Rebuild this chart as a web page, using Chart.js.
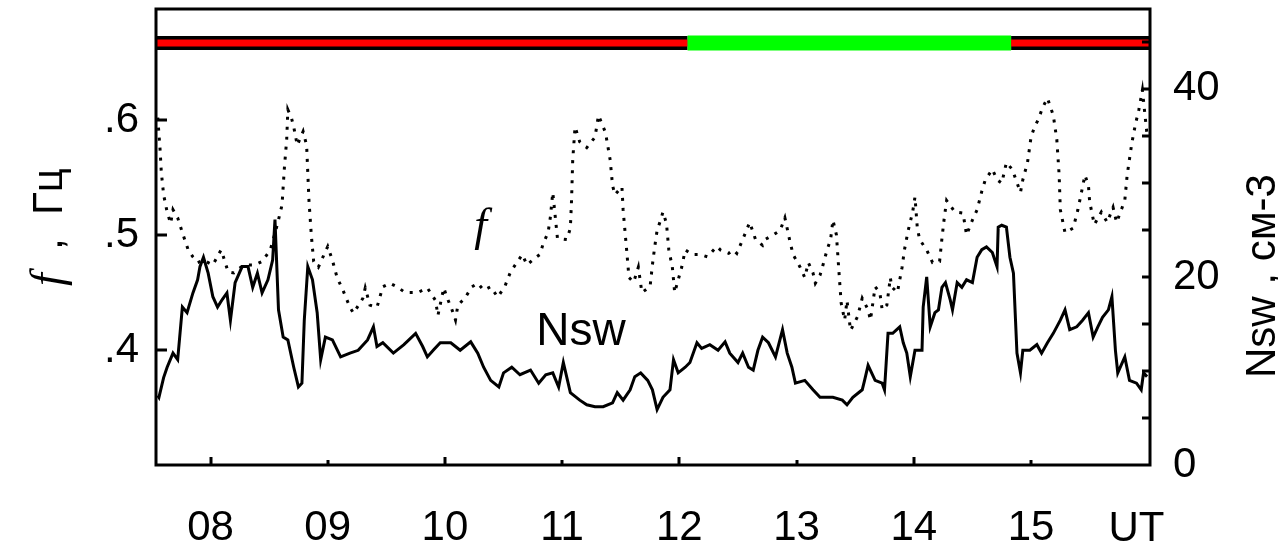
<!DOCTYPE html>
<html>
<head>
<meta charset="utf-8">
<script src="https://cdn.jsdelivr.net/npm/chart.js@4.4.1/dist/chart.umd.min.js"></script>
<style>
  html, body { margin: 0; padding: 0; background: #fff; }
  canvas { display: block; }
</style>
</head>
<body>
<canvas id="myChart" width="1278" height="546"></canvas>
<script>
// time axis, hours UT
const xTickHours = [8, 9, 10, 11, 12, 13, 14, 15];
const fTickValues = [0.4, 0.5, 0.6];
const nswTickValues = [0, 20, 40];
const nswMinorTicks = [5, 10, 15, 20, 25, 30, 35, 40, 45];

// Nsw, cm-3 (solid line, right axis)
const nswTime = [7.55, 7.56, 7.60, 7.63, 7.68, 7.72, 7.76, 7.80, 7.85, 7.89, 7.91, 7.94, 7.98, 8.02, 8.06, 8.10, 8.14, 8.17, 8.21, 8.27,
  8.32, 8.36, 8.40, 8.44, 8.49, 8.53, 8.55, 8.58, 8.62, 8.66, 8.71, 8.75, 8.78, 8.80, 8.83, 8.87, 8.91, 8.94, 8.98, 9.04,
  9.11, 9.19, 9.26, 9.34, 9.39, 9.42, 9.47, 9.56, 9.65, 9.75, 9.81, 9.85, 9.90, 9.96, 10.05, 10.13, 10.22, 10.28, 10.33, 10.39,
  10.46, 10.50, 10.57, 10.64, 10.73, 10.80, 10.86, 10.92, 10.97, 11.01, 11.07, 11.15, 11.21, 11.28, 11.35, 11.43, 11.47, 11.52, 11.58, 11.62,
  11.67, 11.73, 11.77, 11.81, 11.86, 11.92, 11.95, 11.99, 12.05, 12.09, 12.15, 12.19, 12.26, 12.33, 12.39, 12.43, 12.50, 12.54, 12.59, 12.63,
  12.67, 12.71, 12.76, 12.82, 12.88, 12.92, 12.96, 12.99, 13.07, 13.14, 13.20, 13.31, 13.39, 13.43, 13.48, 13.56, 13.58, 13.61, 13.67, 13.73,
  13.75, 13.78, 13.82, 13.88, 13.91, 13.94, 13.97, 14.01, 14.07, 14.08, 14.11, 14.14, 14.18, 14.21, 14.24, 14.27, 14.31, 14.33, 14.37, 14.41,
  14.45, 14.50, 14.54, 14.58, 14.62, 14.67, 14.71, 14.72, 14.75, 14.79, 14.82, 14.85, 14.88, 14.91, 14.93, 14.99, 15.05, 15.09, 15.14, 15.19,
  15.25, 15.29, 15.33, 15.39, 15.44, 15.49, 15.53, 15.57, 15.61, 15.66, 15.69, 15.72, 15.74, 15.80, 15.84, 15.90, 15.94, 15.96, 15.99];
const nswValues = [7.4, 7.2, 9.3, 10.4, 11.9, 11.2, 16.8, 16.2, 18.3, 19.7, 21.1, 22.1, 20.4, 17.9, 16.8, 17.6, 18.3, 15.4, 19.4, 21.1,
  21.1, 18.9, 20.4, 18.3, 19.7, 21.8, 26.1, 16.5, 13.6, 13.3, 10.4, 8.3, 8.7, 15.4, 21.1, 19.7, 16.2, 11.2, 13.6, 13.3,
  11.5, 11.9, 12.2, 13.3, 14.7, 12.6, 13.0, 11.9, 12.8, 14.0, 12.6, 11.5, 12.2, 13.0, 13.0, 12.2, 13.1, 11.9, 10.4, 9.0,
  8.3, 9.8, 10.4, 9.6, 10.1, 8.7, 9.6, 9.8, 8.3, 10.9, 7.7, 6.9, 6.4, 6.2, 6.2, 6.6, 7.7, 6.9, 8.0, 9.4,
  9.8, 9.0, 8.0, 5.9, 7.2, 8.0, 11.2, 9.8, 10.4, 10.9, 13.0, 12.4, 12.8, 12.2, 13.1, 11.9, 10.9, 11.9, 10.4, 10.1,
  12.2, 13.6, 13.0, 11.5, 14.4, 11.9, 10.4, 8.7, 9.0, 8.0, 7.2, 7.2, 6.9, 6.4, 7.2, 8.0, 9.0, 10.6, 9.0, 8.7,
  8.0, 14.0, 14.0, 14.7, 13.0, 11.9, 9.4, 12.2, 12.2, 16.8, 20.0, 14.7, 16.2, 16.5, 18.9, 19.4, 17.6, 16.5, 19.4, 18.9,
  19.7, 19.4, 22.1, 22.9, 23.2, 22.6, 21.1, 25.3, 25.5, 25.3, 22.1, 20.4, 11.9, 9.8, 12.2, 12.2, 12.8, 11.9, 13.0, 14.0,
  15.4, 16.5, 14.4, 14.7, 15.4, 16.2, 13.6, 14.7, 15.7, 16.5, 17.9, 12.2, 9.8, 11.5, 9.0, 8.7, 8.0, 9.8, 9.4];

// f, Hz (dotted line, left axis)
const fTime = [7.55, 7.57, 7.58, 7.60, 7.63, 7.66, 7.68, 7.72, 7.76, 7.79, 7.81, 7.85, 7.89, 7.94, 8.02, 8.09, 8.11, 8.15, 8.20, 8.26,
  8.32, 8.38, 8.44, 8.51, 8.57, 8.61, 8.63, 8.65, 8.66, 8.69, 8.71, 8.74, 8.79, 8.82, 8.84, 8.86, 8.88, 8.92, 9.00, 9.04,
  9.08, 9.13, 9.19, 9.22, 9.30, 9.32, 9.36, 9.42, 9.47, 9.53, 9.59, 9.66, 9.72, 9.77, 9.85, 9.92, 9.94, 9.99, 10.02, 10.06,
  10.09, 10.11, 10.17, 10.23, 10.28, 10.33, 10.39, 10.45, 10.51, 10.56, 10.66, 10.70, 10.77, 10.81, 10.84, 10.88, 10.90, 10.92, 10.96, 11.04,
  11.07, 11.08, 11.09, 11.11, 11.15, 11.21, 11.28, 11.31, 11.37, 11.41, 11.43, 11.45, 11.51, 11.52, 11.55, 11.57, 11.61, 11.65, 11.68, 11.75,
  11.77, 11.79, 11.81, 11.84, 11.86, 11.89, 11.91, 11.94, 11.96, 12.02, 12.05, 12.11, 12.18, 12.24, 12.32, 12.35, 12.42, 12.46, 12.49, 12.54,
  12.60, 12.65, 12.71, 12.73, 12.80, 12.86, 12.90, 12.94, 12.97, 13.03, 13.07, 13.10, 13.14, 13.16, 13.20, 13.22, 13.26, 13.29, 13.31, 13.34,
  13.36, 13.38, 13.41, 13.43, 13.46, 13.52, 13.56, 13.61, 13.63, 13.67, 13.71, 13.73, 13.77, 13.80, 13.81, 13.86, 13.90, 13.92, 13.95, 13.99,
  14.01, 14.03, 14.05, 14.11, 14.16, 14.22, 14.24, 14.26, 14.28, 14.35, 14.42, 14.45, 14.50, 14.54, 14.58, 14.61, 14.67, 14.71, 14.75, 14.79,
  14.84, 14.91, 14.93, 14.97, 15.00, 15.03, 15.06, 15.10, 15.14, 15.19, 15.22, 15.24, 15.25, 15.29, 15.36, 15.40, 15.46, 15.49, 15.50, 15.54,
  15.60, 15.65, 15.70, 15.73, 15.80, 15.82, 15.86, 15.89, 15.92, 15.95, 15.99];
const fValues = [0.602, 0.574, 0.555, 0.535, 0.520, 0.510, 0.522, 0.515, 0.502, 0.493, 0.487, 0.481, 0.476, 0.478, 0.474, 0.487, 0.481, 0.468, 0.467, 0.472,
  0.474, 0.474, 0.477, 0.487, 0.509, 0.526, 0.558, 0.583, 0.609, 0.602, 0.594, 0.578, 0.590, 0.578, 0.530, 0.500, 0.477, 0.472, 0.490, 0.478,
  0.463, 0.452, 0.437, 0.432, 0.445, 0.454, 0.439, 0.437, 0.455, 0.458, 0.455, 0.450, 0.450, 0.450, 0.454, 0.443, 0.430, 0.454, 0.445, 0.435,
  0.426, 0.439, 0.445, 0.455, 0.458, 0.452, 0.455, 0.446, 0.455, 0.468, 0.483, 0.474, 0.480, 0.483, 0.493, 0.502, 0.516, 0.537, 0.497, 0.496,
  0.506, 0.530, 0.565, 0.594, 0.581, 0.576, 0.585, 0.604, 0.589, 0.565, 0.543, 0.535, 0.542, 0.522, 0.487, 0.463, 0.459, 0.472, 0.450, 0.455,
  0.474, 0.490, 0.504, 0.513, 0.520, 0.510, 0.487, 0.472, 0.450, 0.472, 0.487, 0.483, 0.483, 0.481, 0.490, 0.487, 0.484, 0.487, 0.484, 0.496,
  0.511, 0.496, 0.491, 0.496, 0.500, 0.504, 0.515, 0.496, 0.483, 0.472, 0.463, 0.476, 0.467, 0.458, 0.465, 0.472, 0.487, 0.496, 0.513, 0.500,
  0.470, 0.441, 0.426, 0.443, 0.417, 0.429, 0.445, 0.435, 0.426, 0.455, 0.450, 0.435, 0.439, 0.463, 0.455, 0.450, 0.472, 0.487, 0.503, 0.520,
  0.533, 0.506, 0.496, 0.487, 0.476, 0.477, 0.497, 0.515, 0.530, 0.520, 0.519, 0.500, 0.513, 0.522, 0.538, 0.548, 0.557, 0.548, 0.545, 0.563,
  0.557, 0.537, 0.548, 0.563, 0.585, 0.594, 0.600, 0.611, 0.619, 0.604, 0.583, 0.552, 0.522, 0.502, 0.506, 0.522, 0.552, 0.543, 0.529, 0.509,
  0.520, 0.511, 0.524, 0.511, 0.530, 0.552, 0.580, 0.596, 0.609, 0.626, 0.587];

// status band on top: red / green / red intervals (hours)
const redIntervals = [[7.535, 12.07], [14.83, 16.015]];
const greenIntervals = [[12.07, 14.83]];
const bandLevel = 0.667;

const xMin = 7.535, xMax = 16.015;

function pts(t, v) { return t.map((x, i) => ({x: x, y: v[i]})); }
function bandData(list) {
   const out = [];
   list.forEach(seg => { out.push({x: seg[0], y: bandLevel}, {x: seg[1], y: bandLevel}, {x: seg[1], y: null}); });
   return out;
}

const FONT = "'Liberation Sans', Arial, sans-serif";

const decorPlugin = {
   id: 'decor',
   afterDraw(chart) {
      const ctx = chart.ctx;
      const a = chart.chartArea;
      const xs = chart.scales.x, yl = chart.scales.y, yr = chart.scales.y2;
      ctx.save();
      ctx.strokeStyle = '#000';
      ctx.lineWidth = 3;
      ctx.strokeRect(a.left, a.top, a.right - a.left, a.bottom - a.top);

      // inward tick marks
      ctx.beginPath();
      xTickHours.forEach(h => {
         const px = Math.round(xs.getPixelForValue(h));
         const len = h % 2 === 0 ? 8 : 5;
         ctx.moveTo(px, a.bottom); ctx.lineTo(px, a.bottom - len);
      });
      fTickValues.forEach(v => {
         const py = Math.round(yl.getPixelForValue(v));
         ctx.moveTo(a.left, py); ctx.lineTo(a.left + 11, py);
      });
      nswMinorTicks.forEach(v => {
         const py = Math.round(yr.getPixelForValue(v));
         ctx.moveTo(a.right, py); ctx.lineTo(a.right - 8, py);
      });
      ctx.stroke();

      ctx.fillStyle = '#000';
      ctx.textBaseline = 'alphabetic';
      // "UT" at the end of the time axis
      ctx.font = '42px ' + FONT;
      ctx.textAlign = 'center';
      ctx.fillText('UT', xs.getPixelForValue(15.9), 541);

      // series labels inside the plot
      ctx.font = '46px ' + FONT;
      ctx.textAlign = 'left';
      ctx.fillText('Nsw', xs.getPixelForValue(10.78), yr.getPixelForValue(12.8));
      ctx.font = 'italic 46px "Liberation Serif", serif';
      ctx.fillText('f', xs.getPixelForValue(10.25), yl.getPixelForValue(0.4957));

      // left axis title, reading upwards
      ctx.save();
      ctx.translate(62, 286);
      ctx.rotate(-Math.PI / 2);
      ctx.textAlign = 'left';
      ctx.font = 'italic 46px "Liberation Serif", serif';
      ctx.fillText('f', 0, 0);
      let w = ctx.measureText('f').width;
      ctx.font = '42px ' + FONT;
      ctx.fillText('  ,  Гц', w, 0);
      ctx.restore();

      // right axis title, reading upwards
      ctx.save();
      ctx.translate(1275, 378);
      ctx.rotate(-Math.PI / 2);
      ctx.textAlign = 'left';
      ctx.font = '42px ' + FONT;
      ctx.fillText('Nsw , см-3', 0, 0);
      ctx.restore();
      ctx.restore();
   }
};

const chartElement = document.getElementById('myChart');
const chart = new Chart(chartElement.getContext('2d'), {
   type: 'line',
   data: {
      datasets: [
         {
            label: 'green', data: bandData(greenIntervals), yAxisID: 'y',
            borderColor: '#00ff00', borderWidth: 15, pointRadius: 0, spanGaps: false, order: 0, borderCapStyle: 'butt'
         },
         {
            label: 'red', data: bandData(redIntervals), yAxisID: 'y',
            borderColor: '#ff0000', borderWidth: 7, pointRadius: 0, spanGaps: false, order: 1, borderCapStyle: 'butt'
         },
         {
            label: 'redOutline', data: bandData(redIntervals), yAxisID: 'y',
            borderColor: '#000', borderWidth: 14, pointRadius: 0, spanGaps: false, order: 2, borderCapStyle: 'butt'
         },
         {
            label: 'Nsw', data: pts(nswTime, nswValues), yAxisID: 'y2',
            borderColor: '#000', borderWidth: 3, pointRadius: 0, tension: 0, order: 3
         },
         {
            label: 'f', data: pts(fTime, fValues), yAxisID: 'y',
            borderColor: '#000', borderWidth: 3, borderDash: [3, 7], pointRadius: 0, tension: 0, order: 4,
            borderCapStyle: 'butt'
         }
      ]
   },
   options: {
      responsive: false,
      devicePixelRatio: 1,
      animation: false,
      layout: { padding: { top: 9, left: 0, right: 0, bottom: 0 } },
      plugins: { legend: { display: false }, tooltip: { enabled: false } },
      scales: {
         x: {
            type: 'linear', min: xMin, max: xMax,
            afterFit: s => { s.height = 81; s.paddingLeft = 0; s.paddingRight = 0; },
            afterBuildTicks: s => { s.ticks = xTickHours.map(v => ({value: v})); },
            grid: { display: false, drawTicks: false },
            border: { display: false },
            ticks: {
               padding: 38, color: '#000', font: { family: FONT, size: 42 },
               maxRotation: 0, autoSkip: false,
               callback: v => String(v).padStart(2, '0')
            }
         },
         y: {
            position: 'left', min: 0.3, max: 0.6965,
            afterFit: s => { s.width = 156; s.paddingTop = 0; s.paddingBottom = 0; },
            afterBuildTicks: s => { s.ticks = fTickValues.map(v => ({value: v})); },
            grid: { display: false, drawTicks: false },
            border: { display: false },
            ticks: {
               padding: 17, color: '#000', font: { family: FONT, size: 42 },
               callback: v => '.' + Math.round(v * 10)
            }
         },
         y2: {
            position: 'right', min: 0, max: 48.5,
            afterFit: s => { s.width = 128; s.paddingTop = 0; s.paddingBottom = 0; },
            afterBuildTicks: s => { s.ticks = nswTickValues.map(v => ({value: v})); },
            grid: { display: false, drawTicks: false },
            border: { display: false },
            ticks: {
               padding: 23, color: '#000', font: { family: FONT, size: 42 },
               callback: v => String(v)
            }
         }
      }
   },
   plugins: [decorPlugin]
});
</script>
</body>
</html>
